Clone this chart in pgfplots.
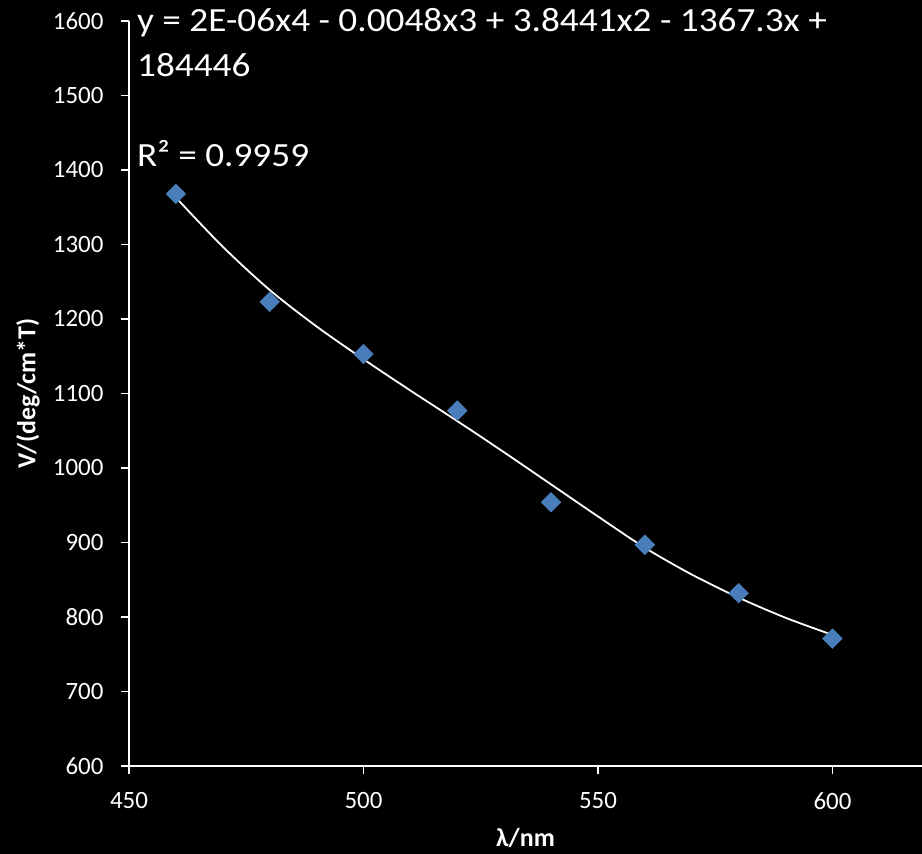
\documentclass[border=0pt]{standalone}
\usepackage{pgfplots}
\usepackage{pgfplotstable}
\pgfplotsset{compat=1.18}
\usetikzlibrary{backgrounds}
\usepackage{fontspec}
\setmainfont{Carlito}
\definecolor{mk}{HTML}{4A7EBB}

\pgfplotstableread{
x y
460 1368
480 1223
500 1153
520 1077
540 954
560 897
580 832
600 771
}\datatab

\pgfplotstableread{
x y
460 1363
470 1297
480 1239
490 1190
500 1146
510 1104
520 1063
530 1021
540 978
550 935
560 893
570 857
580 826
590 799
600 776
}\trendtab

\begin{document}
\begin{tikzpicture}
\begin{axis}[
  scale only axis, width=793bp, height=745bp,
  xmin=450, xmax=619.1, ymin=600, ymax=1600,
  clip=false,
  axis lines*=left,
  axis line style={white, line width=1.8bp},
  xtick={450,500,550,600}, ytick={600,700,...,1600},
  tick align=outside, major tick length=8bp,
  tick style={white, line width=1.4bp},
  /pgf/number format/assume math mode=true,
  /pgf/number format/set thousands separator={},
  ticklabel style={font=\fontsize{25}{29}\selectfont, text=white},
  yticklabel style={xshift=-14bp},
  xticklabel style={yshift=-15bp},
  xlabel={\bfseries λ/nm},
  ylabel={\bfseries V/(deg/cm*T)},
  label style={font=\fontsize{26}{30}\selectfont, text=white},
  xlabel style={at={(axis description cs:0.5,-0.0966)}, anchor=center},
  ylabel style={at={(axis description cs:-0.1274,0.5)}, anchor=center, rotate=0},
]
\addplot[only marks, mark=square*, mark size=7bp, mark options={rotate=45, fill=mk, draw=mk}] table[x=x,y=y]{\datatab};
\addplot[white, line width=1.8bp, smooth, no marks] table[x=x,y=y]{\trendtab};
\node[anchor=base west, font=\fontsize{34}{40}\selectfont, text=white, inner sep=0pt] at (axis cs:451.7,1585.6) {\scalebox{1.1}[1]{y = 2E-06x4 - 0.0048x3 + 3.8441x2 - 1367.3x +}};
\node[anchor=base west, font=\fontsize{34}{40}\selectfont, text=white, inner sep=0pt] at (axis cs:451.7,1526) {\scalebox{1.1}[1]{184446}};
\node[anchor=base west, font=\fontsize{34}{40}\selectfont, text=white, inner sep=0pt] at (axis cs:451.7,1405) {\scalebox{1.1}[1]{R² = 0.9959}};
\coordinate (BL) at (rel axis cs:0,0);
\coordinate (TR) at (rel axis cs:1,1);
\end{axis}
\pgfresetboundingbox
\begin{pgfonlayer}{background}
\fill[black] ([shift={(-129bp,-88bp)}]BL) rectangle ([shift={(0bp,21bp)}]TR);
\end{pgfonlayer}
\path[use as bounding box] ([shift={(-129bp,-88bp)}]BL) rectangle ([shift={(0bp,21bp)}]TR);
\end{tikzpicture}
\end{document}
